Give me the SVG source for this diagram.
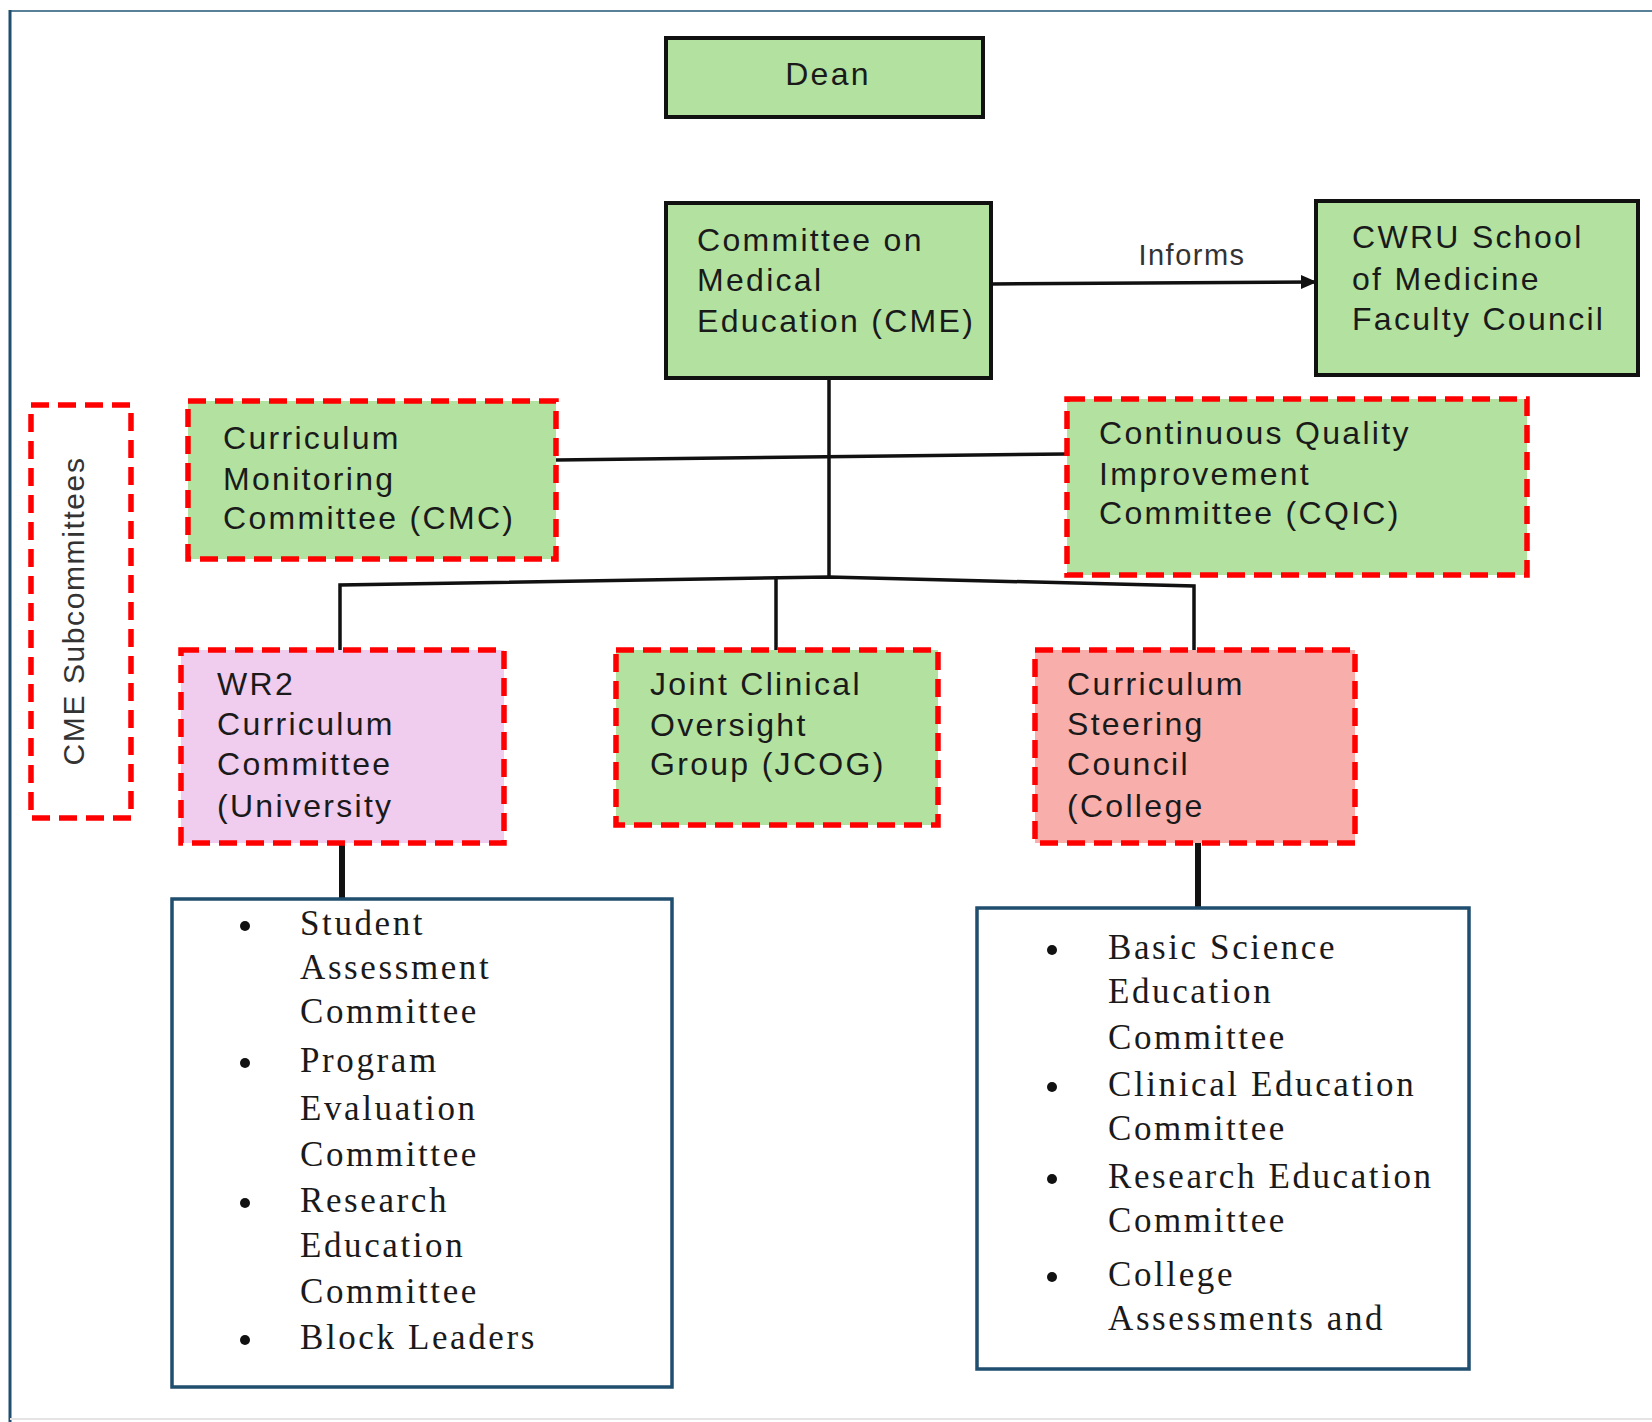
<svg xmlns="http://www.w3.org/2000/svg" width="1652" height="1422" viewBox="0 0 1652 1422">
<style>
.solid{fill:#b3e2a0;stroke:#111;stroke-width:4}
.dash{stroke:#ff0000;stroke-width:5.5;stroke-dasharray:18 9}
.green{fill:#b3e2a0}
.pink{fill:#f0cdee}
.salmon{fill:#f8afac}
.list{fill:#fff;stroke:#1f4e6e;stroke-width:3.5}
.t{font-family:"Liberation Sans",Arial,sans-serif;font-size:32px;fill:#1a1a1a;letter-spacing:2.3px}
.s{font-family:"Liberation Serif","Times New Roman",serif;font-size:35px;fill:#1a1a1a;letter-spacing:2.6px}
.ln{stroke:#111;stroke-width:3.5;fill:none}
.thick{stroke:#111;stroke-width:6;fill:none}
</style>
<defs>
<marker id="arr" markerWidth="16" markerHeight="16" refX="15" refY="8" orient="auto" markerUnits="userSpaceOnUse" viewBox="0 0 16 16">
<path d="M0,1 L16,8 L0,15 z" fill="#111"/>
</marker>
</defs>
<rect x="0" y="0" width="1652" height="1422" fill="#fff"/>
<g id="frame">
<line x1="10" y1="11" x2="1652" y2="11" stroke="#5a7f99" stroke-width="2"/>
<line x1="10" y1="10" x2="10" y2="1422" stroke="#1f4e6e" stroke-width="3"/>
<line x1="10" y1="1419" x2="1652" y2="1419" stroke="#e4e4e4" stroke-width="2"/>
</g>
<g id="connectors">
<line class="ln" x1="991" y1="284" x2="1316" y2="282" marker-end="url(#arr)"/>
<text x="1192" y="265" text-anchor="middle" style="font-family:'Liberation Sans',Arial,sans-serif;font-size:29px;fill:#333;letter-spacing:1.5px">Informs</text>
<line class="ln" x1="829" y1="369" x2="829" y2="578"/>
<line class="ln" x1="556" y1="460" x2="1067" y2="454"/>
<polyline class="ln" points="340,650 340,585 829,577 1194,586 1194,650"/>
<line class="ln" x1="776" y1="579" x2="776" y2="650"/>
<line class="thick" x1="342" y1="843" x2="342" y2="899"/>
<line class="thick" x1="1198" y1="838" x2="1198" y2="908"/>
</g>
<g id="dean">
<rect class="solid" x="666" y="38" width="317" height="79"/>
<text class="t" x="828" y="85" text-anchor="middle">Dean</text>
</g>
<g id="cme">
<rect class="solid" x="666" y="203" width="325" height="175"/>
<text class="t" x="697" y="251">Committee on</text>
<text class="t" x="697" y="291">Medical</text>
<text class="t" x="697" y="332">Education (CME)</text>
</g>
<g id="cwru">
<rect class="solid" x="1316" y="201" width="322" height="174"/>
<text class="t" x="1352" y="248">CWRU School</text>
<text class="t" x="1352" y="290">of Medicine</text>
<text class="t" x="1352" y="330">Faculty Council</text>
</g>
<g id="subcommittees-legend">
<rect class="dash" fill="none" x="31" y="405" width="100" height="413"/>
<text transform="translate(84,611) rotate(-90)" text-anchor="middle" style="font-family:'Liberation Sans',Arial,sans-serif;font-size:30px;fill:#333;letter-spacing:1.6px">CME Subcommittees</text>
</g>
<g id="cmc">
<rect class="dash green" x="188" y="401" width="368" height="158"/>
<text class="t" x="223" y="449">Curriculum</text>
<text class="t" x="223" y="490">Monitoring</text>
<text class="t" x="223" y="529">Committee (CMC)</text>
</g>
<g id="cqic">
<rect class="dash green" x="1067" y="399" width="460" height="176"/>
<text class="t" x="1099" y="444">Continuous Quality</text>
<text class="t" x="1099" y="485">Improvement</text>
<text class="t" x="1099" y="524">Committee (CQIC)</text>
</g>
<g id="wr2">
<rect class="dash pink" x="181" y="650" width="323" height="193"/>
<text class="t" x="217" y="695">WR2</text>
<text class="t" x="217" y="735">Curriculum</text>
<text class="t" x="217" y="775">Committee</text>
<text class="t" x="217" y="817">(University</text>
</g>
<g id="jcog">
<rect class="dash green" x="616" y="650" width="322" height="175"/>
<text class="t" x="650" y="695">Joint Clinical</text>
<text class="t" x="650" y="736">Oversight</text>
<text class="t" x="650" y="775">Group (JCOG)</text>
</g>
<g id="csc">
<rect class="dash salmon" x="1035" y="650" width="320" height="193"/>
<text class="t" x="1067" y="695">Curriculum</text>
<text class="t" x="1067" y="735">Steering</text>
<text class="t" x="1067" y="775">Council</text>
<text class="t" x="1067" y="817">(College</text>
</g>
<g id="university-list">
<rect class="list" x="172" y="899" width="500" height="488"/>
<circle cx="245" cy="926" r="5" fill="#111"/>
<circle cx="245" cy="1063" r="5" fill="#111"/>
<circle cx="245" cy="1203" r="5" fill="#111"/>
<circle cx="245" cy="1340" r="5" fill="#111"/>
<text class="s" x="300" y="935">Student</text>
<text class="s" x="300" y="979">Assessment</text>
<text class="s" x="300" y="1023">Committee</text>
<text class="s" x="300" y="1072">Program</text>
<text class="s" x="300" y="1120">Evaluation</text>
<text class="s" x="300" y="1166">Committee</text>
<text class="s" x="300" y="1212">Research</text>
<text class="s" x="300" y="1257">Education</text>
<text class="s" x="300" y="1303">Committee</text>
<text class="s" x="300" y="1349">Block Leaders</text>
</g>
<g id="college-list">
<rect class="list" x="977" y="908" width="492" height="461"/>
<circle cx="1052" cy="950" r="5" fill="#111"/>
<circle cx="1052" cy="1087" r="5" fill="#111"/>
<circle cx="1052" cy="1179" r="5" fill="#111"/>
<circle cx="1052" cy="1277" r="5" fill="#111"/>
<text class="s" x="1108" y="959">Basic Science</text>
<text class="s" x="1108" y="1003">Education</text>
<text class="s" x="1108" y="1049">Committee</text>
<text class="s" x="1108" y="1096">Clinical Education</text>
<text class="s" x="1108" y="1140">Committee</text>
<text class="s" x="1108" y="1188">Research Education</text>
<text class="s" x="1108" y="1232">Committee</text>
<text class="s" x="1108" y="1286">College</text>
<text class="s" x="1108" y="1330">Assessments and</text>
</g>
</svg>
